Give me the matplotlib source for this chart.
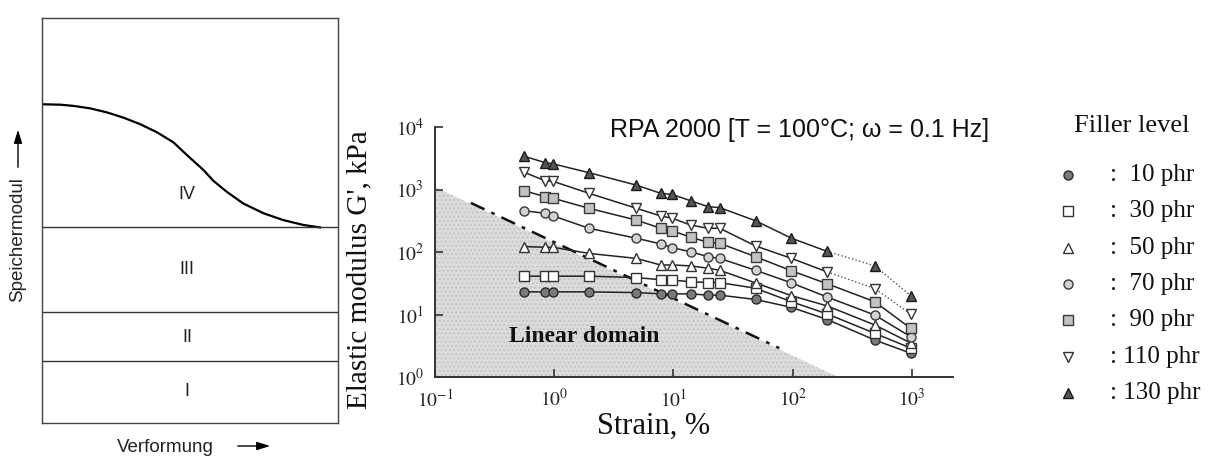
import math

import matplotlib
matplotlib.use("Agg")
import matplotlib.pyplot as plt
from matplotlib.ticker import FixedLocator, FuncFormatter, NullLocator

W, H = 1212, 457
DPI = 100

SERIF = ["Liberation Serif", "DejaVu Serif"]
SANS = ["Liberation Sans", "DejaVu Sans"]
plt.rcParams["mathtext.fontset"] = "stix"

# ---------------------------------------------------------------------------
# Left panel: schematic storage modulus vs deformation
# ---------------------------------------------------------------------------
sketch_x = [0.0, 0.61, 1.06, 1.62, 2.19, 2.75, 3.31, 3.88, 4.44, 4.89,
            5.45, 5.79, 6.24, 6.80, 7.48, 8.15, 8.83, 9.39]
sketch_y = [7.87, 7.86, 7.83, 7.77, 7.67, 7.54, 7.38, 7.18, 6.93, 6.62,
            6.25, 5.98, 5.71, 5.42, 5.18, 5.01, 4.89, 4.83]
region_bounds = [4.84, 2.74, 1.53]
region_labels = ["I", "II", "III", "IV"]
region_label_y = [0.77, 2.12, 3.78, 5.63]

# ---------------------------------------------------------------------------
# Right panel: RPA strain sweep, G' (kPa) vs strain (%)
# ---------------------------------------------------------------------------
strain = [0.56, 0.84, 0.98, 1.95, 4.88, 7.8, 9.77, 13.95, 19.5, 24.4,
          48.8, 97.7, 195, 488, 977]
g_10phr = [23, 23, 23, 23, 22.4, 21.4, 21.4, 21.4, 20.4, 20.4,
           17.4, 13, 8.3, 3.9, 2.4]
g_30phr = [41, 41, 41, 41, 39, 36, 35.5, 33.5, 32.4, 32.4,
           26.3, 16, 10.2, 5.0, 2.9]
g_50phr = [122, 119, 119, 95, 79, 62, 62, 60, 55, 51,
           32, 20, 13.7, 6.8, 3.5]
g_70phr = [457, 417, 377, 240, 166, 135, 117, 101, 84, 79,
           51, 32, 19, 9.8, 4.4]
g_90phr = [955, 767, 724, 501, 324, 240, 219, 172, 143, 138,
           84, 50, 31, 16, 6.0]
g_110phr = [1884, 1380, 1349, 871, 501, 377, 347, 269, 240, 240,
            125, 79, 48, 26, 10.2]
g_130phr = [3400, 2690, 2570, 1860, 1175, 870, 832, 660, 531, 513,
            316, 166, 102, 60, 20]
filler_labels = ["10 phr", "30 phr", "50 phr", "70 phr", "90 phr",
                 "110 phr", "130 phr"]

linear_domain_x = [0.1, 0.1, 240]
linear_domain_y = [1100, 1, 1]
boundary_x = [0.2, 77]
boundary_y = [610, 2.9]

x_ticks = [0.1, 1, 10, 100, 1000]
y_ticks = [1, 10, 100, 1000, 10000]

# marker, face colour, edge colour, dotted tail
styles = [
    ("o", "#7a7a7a", "#2a2a2a", False),
    ("s", "white", "#333333", False),
    ("^", "white", "#333333", False),
    ("o", "#d2d2d2", "#3a3a3a", False),
    ("s", "#c2c2c2", "#3a3a3a", False),
    ("v", "white", "#333333", True),
    ("^", "#555555", "#1a1a1a", True),
]
series = [g_10phr, g_30phr, g_50phr, g_70phr, g_90phr, g_110phr, g_130phr]

fig = plt.figure(figsize=(W / DPI, H / DPI), dpi=DPI)

# overlay in pixel coordinates for free-floating text / legend
ov = fig.add_axes([0, 0, 1, 1], zorder=0)
ov.set_xlim(0, W)
ov.set_ylim(H, 0)
ov.axis("off")

# --- left panel -------------------------------------------------------------
ax0 = fig.add_axes([42 / W, (H - 423) / H, 296 / W, 405 / H], zorder=1)
ax0.set_xlim(0, 10)
ax0.set_ylim(0, 10)
ax0.set_xticks([])
ax0.set_yticks([])
for sp in ax0.spines.values():
    sp.set_linewidth(1.0)
    sp.set_color("#444444")
ax0.plot(sketch_x, sketch_y, color="black", lw=1.6,
         solid_joinstyle="round")
for yb in region_bounds:
    ax0.axhline(yb, color="#333333", lw=1.0)
for lab, ly in zip(region_labels, region_label_y):
    ax0.text(4.9, ly, lab, ha="center", va="center", fontsize=13,
             family=SANS, color="#222222")

ov.text(18, 240, "Speichermodul", rotation=90, ha="center", va="center",
        fontsize=13.5, family=SANS, color="#222222")
ov.annotate("", xy=(18, 127), xytext=(18, 170),
            arrowprops=dict(arrowstyle="-|>,head_length=0.8,head_width=0.25",
                            color="black", lw=1.0))
ov.text(165, 447, "Verformung", ha="center", va="center",
        fontsize=13.5, family=SANS, color="#222222")
ov.annotate("", xy=(273, 446), xytext=(235, 446),
            arrowprops=dict(arrowstyle="-|>,head_length=0.8,head_width=0.25",
                            color="black", lw=1.0))

# --- right panel ------------------------------------------------------------
ax = fig.add_axes([435 / W, (H - 377) / H, 518 / W, 250 / H], zorder=1)
ax.set_xscale("log")
ax.set_yscale("log")
ax.set_xlim(0.1, 2210)
ax.set_ylim(1, 10000)
ax.patch.set_alpha(0)

ax.fill(linear_domain_x, linear_domain_y, facecolor="#dcdcdc",
        edgecolor="#c4c4c4", hatch="....", lw=0, zorder=1)
ax.plot(boundary_x, boundary_y, color="#111111", lw=1.8,
        ls=(0, (6, 3, 1.5, 3)), zorder=2)

for g, (mk, fc, ec, dotted) in zip(series, styles):
    if dotted:
        ax.plot(strain[:13], g[:13], color="#222222", lw=1.1, zorder=3)
        ax.plot(strain[12:], g[12:], color="#555555", lw=1.0, ls=":",
                zorder=3)
    else:
        ax.plot(strain, g, color="#222222", lw=1.1, zorder=3)
    ax.plot(strain, g, ls="none", marker=mk, ms=6.5, mfc=fc, mec=ec,
            mew=1.0, zorder=4)

ax.text(0.42, 4.4, "Linear domain", fontsize=17, fontweight="bold",
        family=SERIF, va="center", ha="left", color="#111111", zorder=5)

for side in ("top", "right"):
    ax.spines[side].set_visible(False)
for side in ("left", "bottom"):
    ax.spines[side].set_linewidth(1.4)
    ax.spines[side].set_color("#333333")


def pow_label(v, pos):
    e = int(round(math.log10(v)))
    return r"$\mathrm{10^{%d}}$" % e


ax.xaxis.set_major_locator(FixedLocator(x_ticks))
ax.yaxis.set_major_locator(FixedLocator(y_ticks))
ax.xaxis.set_minor_locator(NullLocator())
ax.yaxis.set_minor_locator(NullLocator())
ax.xaxis.set_major_formatter(FuncFormatter(pow_label))
ax.yaxis.set_major_formatter(FuncFormatter(pow_label))
ax.tick_params(direction="in", length=6, width=1.2, labelsize=14,
               color="#333333", labelcolor="#222222", pad=8)

ax.set_xlabel("Strain, %", fontsize=22, family=SERIF, color="#111111")
ax.xaxis.set_label_coords(0.421, -0.14)
ax.set_ylabel("Elastic modulus G', kPa", fontsize=21, family=SERIF,
              color="#111111")
ax.yaxis.set_label_coords(-0.12, 0.428)

ov.text(800, 130, "RPA 2000 [T = 100°C; ω = 0.1 Hz]", ha="center",
        va="center", fontsize=18, family=SANS, color="#111111")

# --- legend -----------------------------------------------------------------
ov.text(1132, 126, "Filler level", ha="center", va="center", fontsize=19,
        family=SERIF, color="#111111")
row_y0, row_dy = 175, 36.3
for i, (lab, (mk, fc, ec, _)) in enumerate(zip(filler_labels, styles)):
    yy = row_y0 + i * row_dy
    ov.plot([1068], [yy], ls="none", marker=mk, ms=6.5, mfc=fc, mec=ec,
            mew=1.0)
    txt = ":  " + lab if len(lab) < 7 else ": " + lab
    ov.text(1110, yy, txt, ha="left", va="center", fontsize=18,
            family=SERIF, color="#111111")

fig.savefig("out.png", dpi=DPI)
